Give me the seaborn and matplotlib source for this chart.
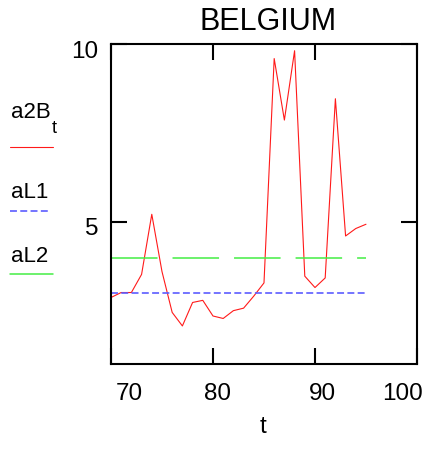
import pandas as pd
import matplotlib.pyplot as plt
import matplotlib.transforms as mtransforms
from matplotlib.lines import Line2D
import seaborn as sns

# Belgium series
t = list(range(70, 96))
a2B = [2.87, 3.01, 3.01, 3.52, 5.21, 3.60, 2.45, 2.07, 2.73, 2.79,
       2.35, 2.28, 2.50, 2.57, 2.91, 3.28, 9.59, 7.86, 9.81, 3.47,
       3.15, 3.42, 8.46, 4.60, 4.81, 4.93]
aL1 = 3.01
aL2 = 3.97

x_ticks = [70, 80, 90, 100]
y_ticks = [5, 10]

sns.set_style("white")
plt.rcParams['font.family'] = ['Liberation Sans', 'DejaVu Sans']
plt.rcParams['lines.scale_dashes'] = False
plt.rcParams['text.color'] = 'black'
plt.rcParams['axes.labelcolor'] = 'black'

red = '#ff1a1a'
blue = '#5c5cff'
green = '#44ee44'

fig = plt.figure(figsize=(4.29, 4.52), dpi=100)
ax = fig.add_axes([0.2587, 0.1925, 0.7133, 0.708])

df = pd.DataFrame({'t': t, 'a2B': a2B})
sns.lineplot(data=df, x='t', y='a2B', color=red, lw=0.8, ax=ax)
sns.lineplot(x=[t[0], t[-1]], y=[aL2, aL2], color=green, lw=1.1,
             linestyle=(0, (33.5, 10.8)), ax=ax)
sns.lineplot(x=[t[0], t[-1]], y=[aL1, aL1], color=blue, lw=1.2,
             linestyle=(0, (5, 2.4)), ax=ax)

ax.set_xlim(70, 100)
ax.set_ylim(1, 10)
ax.set_xticks(x_ticks)
ax.set_yticks(y_ticks)
ax.set_xticklabels([str(v) for v in x_ticks])
ax.set_yticklabels([str(v) for v in y_ticks])

for s in ax.spines.values():
    s.set_visible(True)
    s.set_linewidth(1.5)
    s.set_color('black')
ax.tick_params(direction='in', length=11.5, width=1.5, color='black',
               bottom=True, top=True, left=True, right=True,
               labelsize=17.5, labelcolor='black')
ax.tick_params(axis='x', pad=13)
ax.tick_params(axis='y', pad=9)

# nudge tick labels the way the original plot places them
x_shift = [18, 5, 7, -14]
for lab, dx in zip(ax.get_xticklabels(), x_shift):
    lab.set_transform(lab.get_transform() +
                      mtransforms.ScaledTranslation(dx / 100, 0, fig.dpi_scale_trans))
y_shift = [-4, -5]
for lab, dy in zip(ax.get_yticklabels(), y_shift):
    lab.set_transform(lab.get_transform() +
                      mtransforms.ScaledTranslation(0, dy / 100, fig.dpi_scale_trans))

ax.set_title("BELGIUM", fontsize=22, pad=11, x=0.513, color='black')
ax.set_xlabel("t", fontsize=17.5, color='black')
ax.xaxis.label.set_va('baseline')
ax.xaxis.set_label_coords(0.498, -0.213)
ax.set_ylabel("")

# legend column on the left
W, H = 429, 452
fig.text(11 / W, 1 - 118 / H, "a2B", fontsize=16, va='baseline')
fig.text(52 / W, 1 - 133 / H, "t", fontsize=13, va='baseline')
fig.text(11 / W, 1 - 198 / H, "aL1", fontsize=16, va='baseline')
fig.text(11 / W, 1 - 262 / H, "aL2", fontsize=16, va='baseline')
fig.add_artist(Line2D([10 / W, 53 / W], [1 - 148 / H] * 2, color=red, lw=0.8))
fig.add_artist(Line2D([10 / W, 50 / W], [1 - 212 / H] * 2, color=blue, lw=1.2,
                      linestyle=(0, (5, 2.4))))
fig.add_artist(Line2D([10 / W, 53 / W], [1 - 275 / H] * 2, color=green, lw=1.1))

fig.savefig("out.png", dpi=100)
